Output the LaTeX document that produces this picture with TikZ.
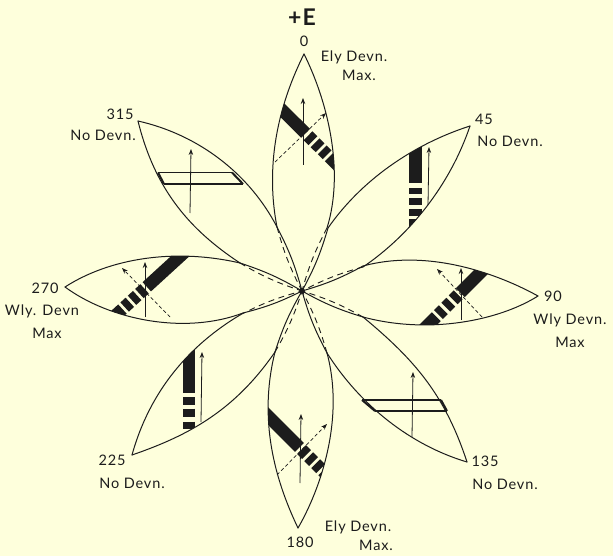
\documentclass[tikz,border=0pt]{standalone}
\usepackage{fontspec}
\setmainfont[LetterSpace=6]{Lato}
\usetikzlibrary{arrows.meta}
\definecolor{paper}{RGB}{254,255,220}
\definecolor{ink}{RGB}{28,28,28}
\tikzset{
  edge/.style={draw=ink,line width=1pt,line cap=round},
  hidden/.style={draw=ink,line width=.9pt,dash pattern=on 6pt off 4.5pt},
  band/.style={draw=ink,line width=12.5pt},
  strike/.style={draw=ink,line width=1.4pt},
  rim/.style={draw=ink,line width=2pt},
  vec/.style={draw=ink,line width=.8pt,-{Stealth[length=6pt,width=4.5pt,inset=2pt]}},
  dvec/.style={draw=ink,line width=.7pt,dash pattern=on 3.5pt off 2.5pt,-{Stealth[length=6pt,width=4.5pt,inset=2pt]}},
  lab/.style={text=ink,font=\fontsize{14.5}{16}\selectfont,inner sep=0pt},
}
% petal edges: from tip to junction with the neighbouring petal
\def\PzL{(304,54) .. controls (281,100) and (264,160) .. (277,227)}
\def\PzR{(327,228) .. controls (345,170) and (327,100) .. (304,54)}
\def\PaU{(470,126) .. controls (420,142) and (365,175) .. (328,228)}
\def\PaL{(363,267) .. controls (410,235) and (450,185) .. (470,126)}
\def\PbU{(538,296) .. controls (500,275) and (430,248) .. (363,266)}
\def\PbL{(363,317) .. controls (430,335) and (500,320) .. (538,296)}
\def\PcU{(467,462) .. controls (445,395) and (415,360) .. (363,317)}
\def\PcL{(327,353) .. controls (360,405) and (410,445) .. (467,462)}
\def\PdR{(298,528) .. controls (320,490) and (345,420) .. (327,353)}
\def\PdL{(275,352) .. controls (258,420) and (275,480) .. (298,528)}
\def\PeU{(132,455) .. controls (150,390) and (190,345) .. (240,315)}
\def\PeL{(275,352) .. controls (235,410) and (190,435) .. (132,455)}
\def\PfL{(65,287) .. controls (110,320) and (185,335) .. (243,313)}
\def\PfU{(240,263) .. controls (175,248) and (110,258) .. (65,287)}
\def\PgU{(138,121) .. controls (200,135) and (250,175) .. (277,227)}
\def\PgL{(240,263) .. controls (190,230) and (155,190) .. (138,121)}
\begin{document}
\begin{tikzpicture}[x=1pt,y=-1pt,bend angle=6]
\fill[paper] (0,0) rectangle (613,556);
\useasboundingbox (0,0) rectangle (613,556);
\coordinate (hub) at (302,291);
% bands, clipped to their petals
\begin{scope}
  \clip \PzL -- (327,228) .. controls (345,170) and (327,100) .. (304,54) -- cycle;
  \draw[band,dash pattern=on 43pt off 3.5pt on 7pt off 3pt on 7pt off 3pt on 7pt off 3pt on 40pt] (275,103) -- (340,167.5);
\end{scope}
\begin{scope}
  \clip \PaU -- (363,267) .. controls (410,235) and (450,185) .. (470,126) -- cycle;
  \draw[band,dash pattern=on 53pt off 5pt on 6pt off 4pt on 7pt off 4pt on 7pt off 3pt on 40pt] (415.7,130) -- (415.7,245);
\end{scope}
\begin{scope}
  \clip \PbU -- (363,317) .. controls (430,335) and (500,320) .. (538,296) -- cycle;
  \draw[band,dash pattern=on 42pt off 3pt on 7pt off 3.5pt on 7pt off 3.5pt on 7pt off 3pt on 40pt] (490,263) -- (420,333);
\end{scope}
\begin{scope}
  \clip \PdR -- (275,352) .. controls (258,420) and (275,480) .. (298,528) -- cycle;
  \draw[band,dash pattern=on 53pt off 3pt on 7pt off 3pt on 7pt off 3pt on 7pt off 3pt on 40pt] (262,410) -- (335,483);
\end{scope}
\begin{scope}
  \clip \PeU -- (275,352) .. controls (235,410) and (190,435) .. (132,455) -- cycle;
  \draw[band,dash pattern=on 48pt off 4pt on 7.5pt off 4pt on 8pt off 5pt on 7pt off 5pt on 40pt] (189,345) -- (189,445);
\end{scope}
\begin{scope}
  \clip \PfU .. controls (110,320) and (185,335) .. (243,313) -- cycle;
  \draw[band,dash pattern=on 54.5pt off 3pt on 7pt off 3pt on 7pt off 3pt on 7pt off 3pt on 40pt] (187,250) -- (105,325);
\end{scope}
% double strikes on the no-deviation petals
\draw[strike] (362,400) -- (441,400);
\draw[strike] (375,411) -- (447,411);
\draw[rim] (362,400) -- (375,411);
\draw[rim] (441,400) -- (447,411);
\draw[strike] (158,172.5) -- (232,172.5);
\draw[strike] (164,184) -- (243,184);
\draw[rim] (158,172.5) -- (164,184);
\draw[rim] (232,172.5) -- (243,184);
% petal outlines
\draw[edge] \PzL; \draw[edge] \PzR;
\draw[edge] \PaU; \draw[edge] \PaL;
\draw[edge] \PbU; \draw[edge] \PbL;
\draw[edge] \PcU; \draw[edge] \PcL;
\draw[edge] \PdR; \draw[edge] \PdL;
\draw[edge] \PeU; \draw[edge] \PeL;
\draw[edge] \PfU; \draw[edge] \PfL;
\draw[edge] \PgU; \draw[edge] \PgL;
% solid runs into the hub
\draw[edge] (328,228) to[bend left] (hub);
\draw[edge] (363,266) to[bend left] (hub);
\draw[edge] (363,317) to[bend left] (hub);
\draw[edge] (327,353) to[bend left] (hub);
\draw[edge] (275,352) to[bend left] (hub);
\draw[edge] (243,313) to[bend right] (hub);
\draw[edge] (240,263) to[bend left] (hub);
\draw[edge] (277,227) to[bend left] (hub);
% dashed runs into the hub
\draw[hidden] (277,227) to[bend right] (hub);
\draw[hidden] (327,228) to[bend right] (hub);
\draw[hidden] (363,267) to[bend right] (hub);
\draw[hidden] (363,317) to[bend right] (hub);
\draw[hidden] (327,353) to[bend right] (hub);
\draw[hidden] (275,352) to[bend right] (hub);
\draw[hidden] (240,315) to[bend left] (hub);
\draw[hidden] (240,263) to[bend right] (hub);
\fill[ink] (hub) circle (2.8pt);
% vectors
\draw[vec] (303,165) -- (303,98);
\draw[dvec] (275,162) -- (326,113);
\draw[vec] (428,205) -- (429,147);
\draw[vec] (461,320) -- (461,268);
\draw[dvec] (482,317) -- (437,269);
\draw[vec] (412,437) -- (413,372);
\draw[vec] (300,483) -- (301,414);
\draw[dvec] (277,475) -- (327,424);
\draw[vec] (201,422) -- (202,352);
\draw[vec] (145,317) -- (145,262);
\draw[dvec] (170,317) -- (122,268);
\draw[vec] (190,213) -- (191,149);
% labels
\node[lab,font=\bfseries\fontsize{23}{25}\selectfont] (plusE) at (302,17) {+E};
\node[lab] (a0) at (304,41) {0};
\node[lab] (e0) at (354,57.5) {Ely Devn.};
\node[lab] (m0) at (359,75) {Max.};
\node[lab] (a45) at (484,119) {45};
\node[lab] (n45) at (510,141) {No Devn.};
\node[lab] (a90) at (553,296) {90};
\node[lab] (w90) at (570,320) {Wly Devn.};
\node[lab] (m90) at (570,342) {Max};
\node[lab] (a135) at (485,461) {135};
\node[lab] (n135) at (505,484) {No Devn.};
\node[lab] (a180) at (300,542) {180};
\node[lab] (e180) at (358,527) {Ely Devn.};
\node[lab] (m180) at (376,545) {Max.};
\node[lab] (a225) at (112,460) {225};
\node[lab] (n225) at (132,483) {No Devn.};
\node[lab] (a270) at (45,288) {270};
\node[lab] (w270) at (42,311) {Wly. Devn};
\node[lab] (m270) at (47,333) {Max};
\node[lab] (a315) at (120,114) {315};
\node[lab] (n315) at (103,135) {No Devn.};
\end{tikzpicture}
\end{document}
